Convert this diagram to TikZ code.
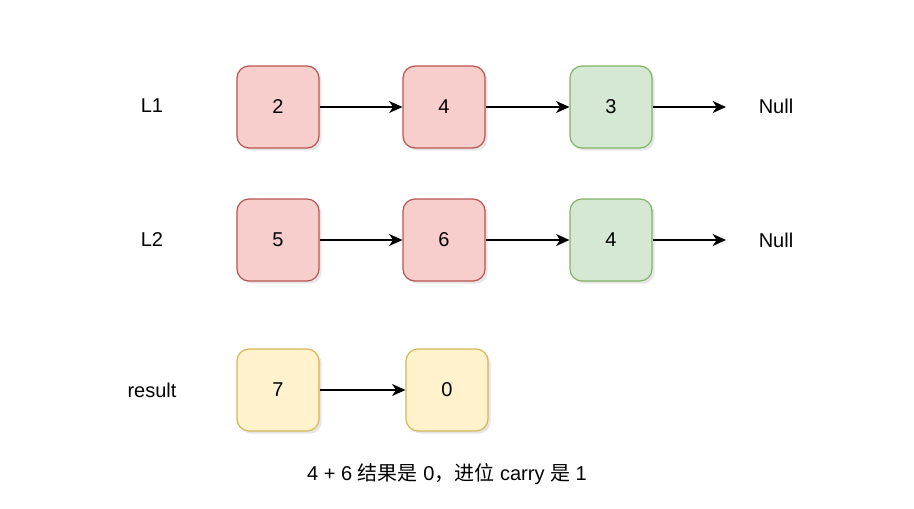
\documentclass[tikz,border=0pt]{standalone}
\usepackage{fontspec}
\setmainfont{Liberation Sans}
\newfontfamily\cjk{Noto Sans CJK SC}
\usetikzlibrary{arrows.meta}
\usetikzlibrary{shadows}

\tikzset{
    cell/.style={draw, rounded corners=9pt, minimum size=61.5pt, line width=0.9pt,
        drop shadow={opacity=0.2, shadow xshift=2pt, shadow yshift=-2pt}, font=\fontsize{15}{18}\selectfont},
    redcell/.style={cell, fill=cellred, draw=edgered},
    greencell/.style={cell, fill=cellgreen, draw=edgegreen},
    yellowcell/.style={cell, fill=cellyellow, draw=edgeyellow},
    label/.style={font=\fontsize{15}{18}\selectfont},
    link/.style={-{Stealth[length=10pt, width=9pt, inset=3pt]}, line width=0.9pt},
}
\definecolor{cellred}{HTML}{F8CECC}
\definecolor{edgered}{HTML}{B85450}
\definecolor{cellgreen}{HTML}{D5E8D4}
\definecolor{edgegreen}{HTML}{82B366}
\definecolor{cellyellow}{HTML}{FFF2CC}
\definecolor{edgeyellow}{HTML}{D6B656}

\begin{document}
\begin{tikzpicture}[x=0.75pt, y=-0.75pt]
    \useasboundingbox (0, 0) rectangle (914, 508);

    % L1
    \node [label] (L1) at (152, 106) {L1};
    \node [redcell] (a2) at (278, 107) {2};
    \node [redcell] (a4) at (444, 107) {4};
    \node [greencell] (a3) at (611, 107) {3};
    \coordinate (e1) at (726, 107);
    \node [label] (null1) at (776, 106) {Null};
    \draw [link] (a2) -- (a4);
    \draw [link] (a4) -- (a3);
    \draw [link] (a3) -- (e1);

    % L2
    \node [label] (L2) at (152, 240) {L2};
    \node [redcell] (b5) at (278, 240) {5};
    \node [redcell] (b6) at (444, 240) {6};
    \node [greencell] (b4) at (611, 240) {4};
    \coordinate (e2) at (726, 240);
    \node [label] (null2) at (776, 240) {Null};
    \draw [link] (b5) -- (b6);
    \draw [link] (b6) -- (b4);
    \draw [link] (b4) -- (e2);

    % result
    \node [label] (res) at (152, 390) {result};
    \node [yellowcell] (r7) at (278, 390) {7};
    \node [yellowcell] (r0) at (447, 390) {0};
    \draw [link] (r7) -- (r0);

    \node [label] (note) at (447, 474) {4 + 6 {\cjk 结果是} 0{\cjk ，进位} carry {\cjk 是} 1};
\end{tikzpicture}
\end{document}
